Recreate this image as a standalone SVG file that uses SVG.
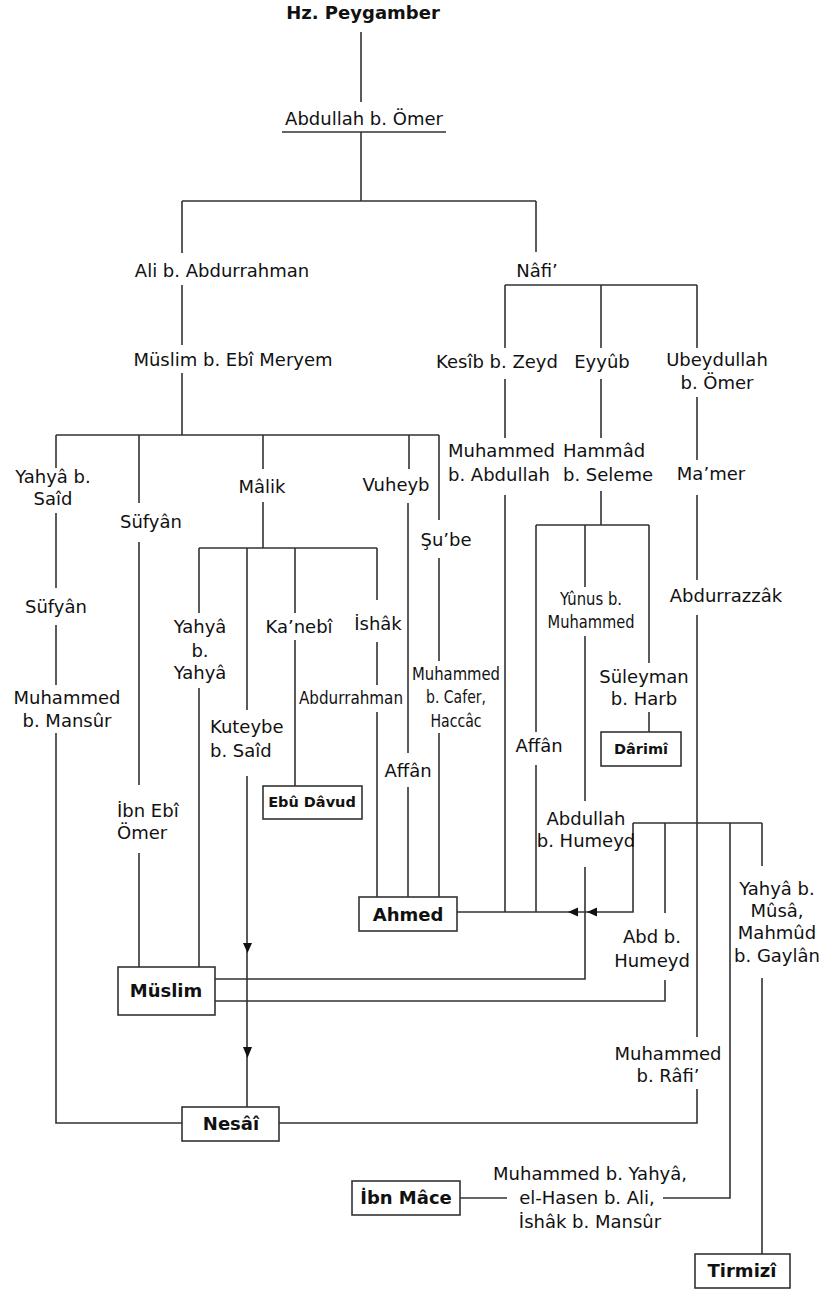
<svg xmlns="http://www.w3.org/2000/svg" width="824" height="1292" viewBox="0 0 824 1292">
<style>
text{font-family:"DejaVu Sans","Verdana",sans-serif;font-size:18px;fill:#111;text-anchor:middle}
.b{font-weight:bold}
.s{font-size:14.5px}
.l{text-anchor:start}
.ln{fill:none;stroke:#333;stroke-width:1.6}
.box{fill:#fff;stroke:#333;stroke-width:1.6}
.ar{fill:#111}
</style>
<rect width="824" height="1292" fill="#fff"/>
<g id="connectors">
<path class="ln" d="M361,32V102M361,132V201M182,201H536M182,201V253M536,201V252M182,285V345M182,373V435M56,435H439M56,435V468M139,435V503M263,435V469M409,435V469M439,435V520"/>
<path class="ln" d="M505,285H697M505,285V348M601,285V348M697,285V348M505,379V438M505,495V912M601,379V438M601,491V525M536,525H649M536,525V732M536,765V912M585,525V587M585,636V801M585,867V979H215M649,525V663M649,712V732"/>
<path class="ln" d="M697,397V460M697,495V580M697,615V1037M697,1089V1123H279M633,823H762M633,823V912H457M665,823V913M665,980V1001H215M730,823V1198H663M507,1198H460M762,823V866M762,978V1254"/>
<path class="ln" d="M56,513V588M56,625V685M56,733V1123H182M139,542V785M139,853V967M263,502V548M199,548H377M199,548V613M199,688V967M247,548V710M247,776V1107M295,548V613M295,640V786M377,548V600M377,642V685M377,712V897M408,503V753M408,787V897M439,558V661M439,733V897"/>
<path class="ar" d="M243,943H252L247.5,953ZM243,1047H252L247.5,1058ZM568,912L578,907.5V916.5ZM587,912L597,907.5V916.5Z"/>
<line class="ln" x1="282" y1="132" x2="446" y2="132"/>
</g>
<g id="n-peygamber"><text class="b" x="363" y="19">Hz. Peygamber</text></g>
<g id="n-abdullah-omer"><text x="364" y="125">Abdullah b. Ömer</text></g>
<g id="n-ali"><text x="222" y="277">Ali b. Abdurrahman</text></g>
<g id="n-nafi"><text x="537" y="277">Nâfi’</text></g>
<g id="n-muslim-meryem"><text x="233" y="366">Müslim b. Ebî Meryem</text></g>
<g id="n-kesib"><text x="497" y="368">Kesîb b. Zeyd</text></g>
<g id="n-eyyub"><text x="602" y="368">Eyyûb</text></g>
<g id="n-ubeydullah"><text x="717" y="366">Ubeydullah</text><text x="717" y="389">b. Ömer</text></g>
<g id="n-muh-abdullah"><text class="l" x="448" y="457">Muhammed</text><text class="l" x="448" y="481">b. Abdullah</text></g>
<g id="n-hammad"><text class="l" x="563" y="457">Hammâd</text><text class="l" x="563" y="481">b. Seleme</text></g>
<g id="n-mamer"><text x="711" y="480">Ma’mer</text></g>
<g id="n-yahya-said"><text x="53" y="483">Yahyâ b.</text><text x="53" y="505">Saîd</text></g>
<g id="n-sufyan2"><text x="151" y="528">Süfyân</text></g>
<g id="n-malik"><text x="262" y="493">Mâlik</text></g>
<g id="n-vuheyb"><text x="396" y="491">Vuheyb</text></g>
<g id="n-shube"><text x="446" y="546">Şu’be</text></g>
<g id="n-sufyan1"><text x="56" y="613">Süfyân</text></g>
<g id="n-yahya-yahya"><text x="200" y="633">Yahyâ</text><text x="200" y="657">b.</text><text x="200" y="679">Yahyâ</text></g>
<g id="n-kanebi"><text x="299" y="633">Ka’nebî</text></g>
<g id="n-ishak"><text x="378" y="630">İshâk</text></g>
<g id="n-abdurrahman"><text x="351" y="704" textLength="104" lengthAdjust="spacingAndGlyphs">Abdurrahman</text></g>
<g id="n-muh-cafer"><text x="456" y="680" textLength="88" lengthAdjust="spacingAndGlyphs">Muhammed</text><text x="456" y="703" textLength="60" lengthAdjust="spacingAndGlyphs">b. Cafer,</text><text x="456" y="727" textLength="51" lengthAdjust="spacingAndGlyphs">Haccâc</text></g>
<g id="n-yunus"><text x="591" y="605" textLength="62" lengthAdjust="spacingAndGlyphs">Yûnus b.</text><text x="591" y="628" textLength="87" lengthAdjust="spacingAndGlyphs">Muhammed</text></g>
<g id="n-abdurrazzak"><text x="726" y="602">Abdurrazzâk</text></g>
<g id="n-suleyman"><text x="644" y="683">Süleyman</text><text x="644" y="705">b. Harb</text></g>
<g id="n-darimi"><rect class="box" x="601" y="732" width="80" height="34"/><text class="b s" x="641" y="754">Dârimî</text></g>
<g id="n-muh-mansur"><text x="67" y="704">Muhammed</text><text x="67" y="727">b. Mansûr</text></g>
<g id="n-kuteybe"><text class="l" x="210" y="733">Kuteybe</text><text class="l" x="210" y="757">b. Saîd</text></g>
<g id="n-affan1"><text x="408" y="777">Affân</text></g>
<g id="n-affan2"><text x="539" y="752">Affân</text></g>
<g id="n-ebudavud"><rect class="box" x="263" y="786" width="99" height="33"/><text class="b s" x="312" y="807">Ebû Dâvud</text></g>
<g id="n-ibnebiomer"><text class="l" x="117" y="817">İbn Ebî</text><text class="l" x="117" y="839">Ömer</text></g>
<g id="n-abdullah-humeyd"><text x="586" y="825">Abdullah</text><text x="586" y="847">b. Humeyd</text></g>
<g id="n-ahmed"><rect class="box" x="359" y="897" width="98" height="34"/><text class="b" x="408" y="921">Ahmed</text></g>
<g id="n-yahya-musa"><text x="777" y="895">Yahyâ b.</text><text x="777" y="917">Mûsâ,</text><text x="777" y="939">Mahmûd</text><text x="777" y="962">b. Gaylân</text></g>
<g id="n-abd-humeyd"><text x="652" y="943">Abd b.</text><text x="652" y="967">Humeyd</text></g>
<g id="n-muslim"><rect class="box" x="118" y="967" width="97" height="48"/><text class="b" x="166" y="997">Müslim</text></g>
<g id="n-muh-rafi"><text x="668" y="1060">Muhammed</text><text x="668" y="1082">b. Râfi’</text></g>
<g id="n-nesai"><rect class="box" x="182" y="1107" width="97" height="34"/><text class="b" x="231" y="1130">Nesâî</text></g>
<g id="n-muh-yahya"><text x="590" y="1180">Muhammed b. Yahyâ,</text><text x="587" y="1204">el-Hasen b. Ali,</text><text x="590" y="1228">İshâk b. Mansûr</text></g>
<g id="n-ibnmace"><rect class="box" x="352" y="1181" width="108" height="34"/><text class="b" x="406" y="1204">İbn Mâce</text></g>
<g id="n-tirmizi"><rect class="box" x="695" y="1254" width="95" height="34"/><text class="b" x="742" y="1277">Tirmizî</text></g>
</svg>
